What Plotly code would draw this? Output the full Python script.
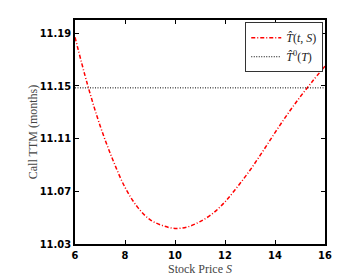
import plotly.graph_objects as go

stock_price = [6, 6.5, 7, 7.5, 8, 8.5, 9, 9.5, 10, 10.5, 11, 11.5, 12, 12.5, 13, 13.5, 14, 14.5, 15, 15.5, 16]
ttm = [11.187, 11.151, 11.120, 11.0945, 11.073, 11.058, 11.0485, 11.044, 11.0418, 11.043, 11.047,
       11.053, 11.062, 11.0735, 11.086, 11.100, 11.1145, 11.1285, 11.1415, 11.1535, 11.165]
t0_x = [6, 16]
t0_value = 11.1485
x_ticks = [6, 8, 10, 12, 14, 16]
y_ticks = [11.03, 11.07, 11.11, 11.15, 11.19]

fig = go.Figure()
fig.add_trace(go.Scatter(
    x=stock_price, y=ttm, mode="lines", line_shape="spline",
    line=dict(color="#ff0000", width=1.5, dash="4px,2px,1px,2px"),
    name="<i>T̂</i>(<i>t</i>, <i>S</i>)"))
fig.add_trace(go.Scatter(
    x=t0_x, y=[t0_value] * len(t0_x), mode="lines",
    line=dict(color="#000000", width=1, dash="1px,1.5px"),
    name="<i>T̂</i><sup>0</sup>(<i>T</i>)"))

axis_common = dict(
    showline=True, linecolor="black", linewidth=1.5, mirror="ticks",
    ticks="inside", ticklen=4, tickcolor="black", showgrid=False, zeroline=False,
    automargin=False,
    tickfont=dict(family="DejaVu Sans Condensed, Liberation Sans Narrow, Liberation Sans, Arial", size=11,
                  color="black", weight="bold"),
)

# page body has an 8px margin, so the figure is sized/offset to compensate
fig.update_layout(
    width=352, height=269,
    margin=dict(l=67, r=35, t=12, b=33),
    paper_bgcolor="white", plot_bgcolor="white",
    xaxis=dict(range=[6, 16], tickvals=x_ticks, ticktext=[str(v) for v in x_ticks],
               title=dict(text="Stock Price <i>S</i>", standoff=0,
                          font=dict(family="Liberation Serif, Times New Roman", size=12, color="#444")),
               **axis_common),
    yaxis=dict(range=[11.03, 11.2], tickvals=y_ticks, ticktext=[f"{v:.2f}" for v in y_ticks],
               title=dict(text="Call TTM (months)", standoff=0,
                          font=dict(family="Liberation Serif, Times New Roman", size=12, color="#444")),
               **axis_common),
    showlegend=True,
    legend=dict(x=0.993, y=0.99, xanchor="right", yanchor="top",
                bgcolor="white", bordercolor="#333", borderwidth=1,
                font=dict(family="Liberation Serif, Times New Roman", size=12, color="#222"),
                itemwidth=30, tracegroupgap=0),
)

fig.write_html("out.html")
